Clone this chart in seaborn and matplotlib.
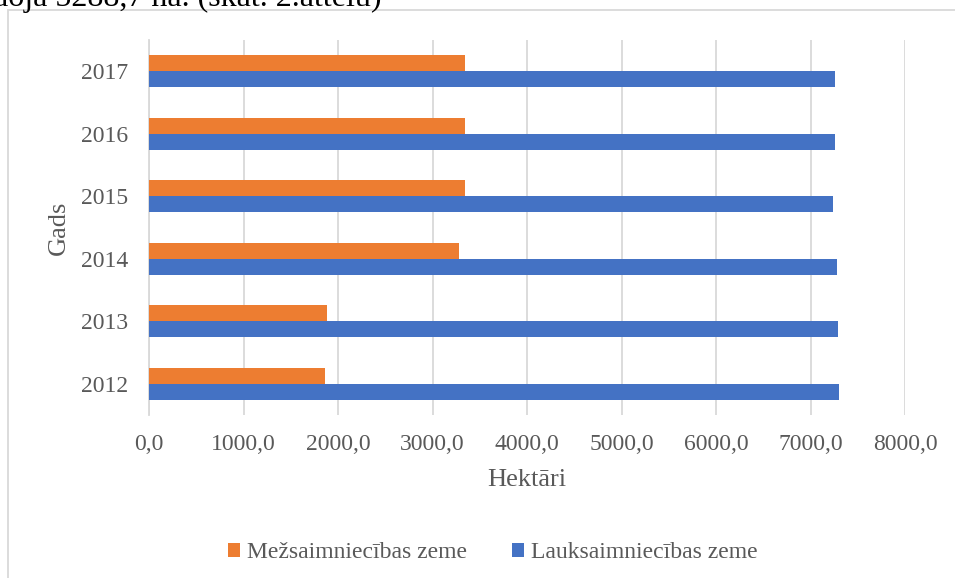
import matplotlib
matplotlib.use("Agg")
import matplotlib.pyplot as plt
import seaborn as sns
import pandas as pd
from matplotlib.patches import Rectangle

years = ["2017", "2016", "2015", "2014", "2013", "2012"]
forest = [3347, 3344, 3344, 3284, 1880, 1866]
agri = [7256, 7256, 7235, 7277, 7295, 7305]
series_names = ["Mežsaimniecības zeme", "Lauksaimniecības zeme"]
xticks = [0, 1000, 2000, 3000, 4000, 5000, 6000, 7000, 8000]
xtick_labels = ["0,0", "1000,0", "2000,0", "3000,0", "4000,0", "5000,0", "6000,0", "7000,0", "8000,0"]

df = pd.DataFrame({
    "Gads": years * 2,
    "Hektāri": forest + agri,
    "Sērija": [series_names[0]] * len(years) + [series_names[1]] * len(years),
})

sns.set_theme(style="white")
plt.rcParams["font.family"] = ["Liberation Serif", "DejaVu Serif"]
TXT = "#595959"

W, H = 955, 578
fig = plt.figure(figsize=(W / 100, H / 100), dpi=100)
ax = fig.add_axes([149 / W, 1 - 415 / H, (905 - 149) / W, (415 - 40) / H])

sns.barplot(data=df, y="Gads", x="Hektāri", hue="Sērija", order=years,
            hue_order=series_names, palette=["#ED7D31", "#4472C4"],
            saturation=1, orient="h", width=0.51, gap=0, ax=ax, legend=True,
            edgecolor="none", linewidth=0, zorder=3)

ax.set_xlim(0, 8000)
ax.set_ylim(5.5, -0.5)
ax.set_xticks(xticks)
ax.set_xticklabels(xtick_labels)
ax.grid(axis="x", color="#D9D9D9", linewidth=1.3, zorder=0)
ax.grid(axis="y", visible=False)
for s in ["top", "right", "bottom"]:
    ax.spines[s].set_visible(False)
ax.spines["left"].set_color("#D9D9D9")
ax.spines["left"].set_linewidth(1.3)
ax.tick_params(axis="both", length=0, labelsize=17, labelcolor=TXT)
ax.tick_params(axis="x", pad=14)
ax.tick_params(axis="y", pad=15)
ax.set_xlabel("Hektāri", fontsize=19, color=TXT, labelpad=10)
ax.set_ylabel("Gads", fontsize=19, color=TXT)
ax.yaxis.set_label_coords((70 - 149) / 756, 0.5)

handles, labels = ax.get_legend_handles_labels()
ax.get_legend().remove()
fig.legend(handles, labels, loc="center", bbox_to_anchor=(493 / W, 1 - 553 / H),
           ncol=2, frameon=False, fontsize=17, labelcolor=TXT,
           handlelength=0.5, handleheight=0.5, handletextpad=0.3,
           columnspacing=1.9)

# chart frame
fig.patches.append(Rectangle((8 / W, -0.1), 1.2, 1 - 10 / H + 0.1,
                             transform=fig.transFigure, fill=False,
                             edgecolor="#D9D9D9", linewidth=1.3))
# clipped document text above the chart
fig.text(-6 / W, 1 - 6 / H, "aoja 5288,7 ha. (skat. 2.attēlu)", fontsize=23,
         color="black", ha="left", va="baseline")

fig.savefig("out.png", dpi=100)
